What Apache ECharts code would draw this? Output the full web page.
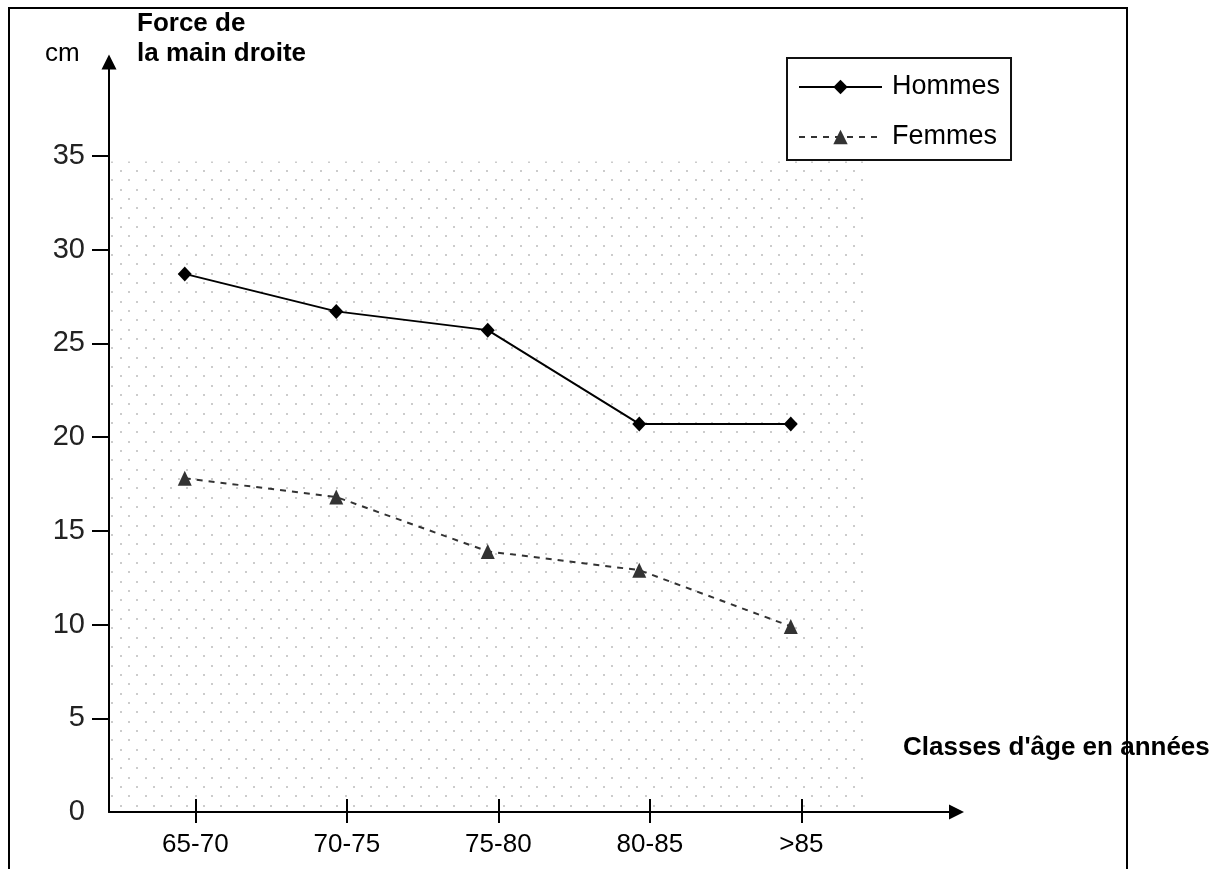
<!DOCTYPE html>
<html><head><meta charset="utf-8">
<script src="https://cdn.jsdelivr.net/npm/echarts@6/dist/echarts.min.js"></script>
<style>html,body{margin:0;padding:0;background:#fff}#c{width:1232px;height:869px}</style>
</head><body><div id="c"></div>
<script>
// ---- data ----
const categories = ['65-70', '70-75', '75-80', '80-85', '>85'];
const hommes = [28.7, 26.7, 25.7, 20.7, 20.7];
const femmes = [17.8, 16.8, 13.9, 12.9, 9.9];
const seriesNames = ['Hommes', 'Femmes'];
const yTickValues = [5, 10, 15, 20, 25, 30, 35];
const yLabelValues = [0, 5, 10, 15, 20, 25, 30, 35];

// ---- styling constants ----
const FONT = '"Liberation Sans", Arial, sans-serif';
const xMin = -0.5, xMax = 5.094, yMin = 0, yMax = 40, dotTop = 34.7;
const tickShift = 0.07;
const xTickValues = categories.map((c, i) => i + tickShift);

function dotPattern() {
  const cv = document.createElement('canvas');
  cv.width = 50; cv.height = 56;
  const ctx = cv.getContext('2d');
  ctx.fillStyle = '#cccccc';
  for (let r = 0; r < 6; r++) {
    for (let k = 0; k < 3; k++) {
      const x = Math.round(k * 50 / 3 + (r % 2 ? 25 / 3 : 0)) + 3;
      const y = Math.round(r * 28 / 3) + 2;
      ctx.fillRect(x, y, 2, 2);
    }
  }
  return cv;
}

const chart = echarts.init(document.getElementById('c'), null, {renderer: 'canvas'});
const axisLineStyle = {color: '#000', width: 2};

chart.setOption({
  animation: false,
  backgroundColor: '#fff',
  grid: {left: 109, top: 62, width: 847.5, height: 750, containLabel: false, outerBoundsMode: 'none'},
  legend: {
    data: seriesNames,
    orient: 'vertical',
    left: 787, top: 58,
    padding: [14, 11, 8, 11],
    itemGap: 20,
    itemWidth: 83, itemHeight: 18,
    borderColor: '#111', borderWidth: 2,
    backgroundColor: '#fff',
    textStyle: {fontFamily: FONT, fontSize: 27, color: '#000', lineHeight: 30, padding: [0, 0, 0, 5]}
  },
  xAxis: [{
    type: 'value', min: xMin, max: xMax, position: 'bottom',
    axisLine: {show: true, onZero: false, lineStyle: axisLineStyle, symbol: ['none', 'triangle'], symbolSize: [15, 15]},
    axisTick: {show: true, inside: true, length: 13, customValues: xTickValues, lineStyle: axisLineStyle},
    axisLabel: {customValues: xTickValues, formatter: v => categories[Math.round(v - tickShift)],
      margin: 20, fontSize: 26, color: '#000', fontFamily: FONT},
    splitLine: {show: false}
  }, {
    type: 'value', min: xMin, max: xMax, position: 'bottom',
    axisLine: {show: false, onZero: false},
    axisTick: {show: true, inside: false, length: 11, customValues: xTickValues, lineStyle: axisLineStyle},
    axisLabel: {show: false},
    splitLine: {show: false}
  }],
  yAxis: {
    type: 'value', min: yMin, max: yMax,
    axisLine: {show: true, onZero: false, lineStyle: axisLineStyle, symbol: ['none', 'triangle'], symbolSize: [15, 15]},
    axisTick: {show: true, inside: false, length: 17, customValues: yTickValues, lineStyle: axisLineStyle},
    axisLabel: {customValues: yLabelValues, margin: 24, fontSize: 29, color: '#222', fontFamily: FONT, padding: [5, 0, 0, 0]},
    splitLine: {show: false}
  },
  series: [{
    name: seriesNames[0], type: 'line',
    data: hommes.map((v, i) => [i, v]),
    symbol: 'diamond', symbolSize: [14, 15], showAllSymbol: true,
    lineStyle: {color: '#000', width: 2},
    itemStyle: {color: '#000'},
    emphasis: {disabled: true},
    z: 3,
    markArea: {
      silent: true,
      itemStyle: {color: {image: dotPattern(), repeat: 'repeat'}},
      data: [[{coord: [xMin, yMin]}, {coord: [categories.length - 0.5, dotTop]}]]
    }
  }, {
    name: seriesNames[1], type: 'line',
    data: femmes.map((v, i) => [i, v]),
    symbol: 'triangle', symbolSize: [14, 15], showAllSymbol: true,
    lineStyle: {color: '#333', width: 2, type: [6, 6]},
    itemStyle: {color: '#333'},
    emphasis: {disabled: true},
    z: 3
  }],
  graphic: [
    {type: 'rect', silent: true, z: -10, shape: {x: 9, y: 8, width: 1118, height: 900},
      style: {fill: 'none', stroke: '#000', lineWidth: 2}},
    {type: 'text', x: 45, y: 54, z: 10, style: {text: 'cm', fontFamily: FONT, fontSize: 26, fill: '#000', verticalAlign: 'middle'}},
    {type: 'text', x: 137, y: 24, z: 10, style: {text: 'Force de', fontFamily: FONT, fontSize: 26, fontWeight: 'bold', fill: '#000', verticalAlign: 'middle'}},
    {type: 'text', x: 137, y: 54, z: 10, style: {text: 'la main droite', fontFamily: FONT, fontSize: 26, fontWeight: 'bold', fill: '#000', verticalAlign: 'middle'}},
    {type: 'text', x: 903, y: 748, z: 10, style: {text: "Classes d'âge en années", fontFamily: FONT, fontSize: 26, fontWeight: 'bold', fill: '#000', verticalAlign: 'middle'}}
  ]
});
</script>
</body></html>
